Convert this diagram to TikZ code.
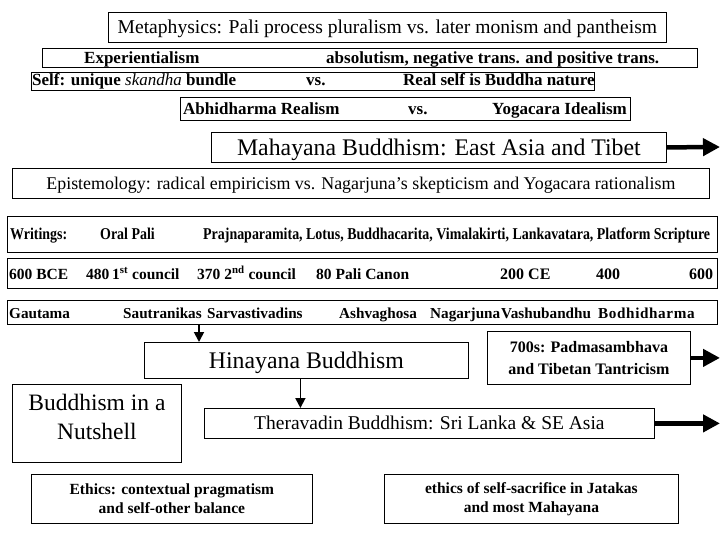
\documentclass[tikz,border=0pt]{standalone}
\usepackage{fontspec}
\setmainfont{Liberation Serif}
\newfontfamily\narrowserif[FakeStretch=0.845]{Liberation Serif}
\usetikzlibrary{positioning,arrows.meta}
\tikzset{%
box/.style={draw,line width=0.8pt,inner sep=0pt,anchor=north west},
bigtext/.style={font=\fontsize{23.8}{29}\selectfont,text height=15.7pt,text depth=0pt},
midtext/.style={font=\fontsize{19.6}{23}\selectfont,text height=12.9pt,text depth=0pt},
epistext/.style={font=\fontsize{17.9}{21}\selectfont,text height=11.8pt,text depth=0pt},
theratext/.style={font=\fontsize{19.5}{23}\selectfont,text height=12.9pt,text depth=0pt},
rowtext/.style={font=\fontsize{17}{20}\selectfont\bfseries,anchor=base west,inner sep=0pt},
writtext/.style={font=\fontsize{16.5}{19}\narrowserif\bfseries,anchor=base west,inner sep=0pt},
datetext/.style={font=\fontsize{15.5}{18}\selectfont\bfseries,anchor=base west,inner sep=0pt},
yeartext/.style={font=\fontsize{16}{19}\selectfont\bfseries,anchor=base west,inner sep=0pt},
nametext/.style={font=\fontsize{15.2}{19}\selectfont\bfseries,anchor=base west,inner sep=0pt},
notetext/.style={font=\fontsize{16}{22}\selectfont\bfseries,align=center},
ethictext/.style={font=\fontsize{15.5}{19}\selectfont\bfseries,align=center},
fatarrow/.style={line width=4.5pt,-{Triangle[length=17pt,width=17pt]}},
thinarrow/.style={line width=1.8pt,-{Triangle[length=10pt,width=10pt]}}
}
\begin{document}
\begin{tikzpicture}[x=1pt,y=-1pt]
  \useasboundingbox (0,0) rectangle (720,540);

  \node[box,midtext,minimum width=558,minimum height=30] (meta) at (108,12)
    {Metaphysics: Pali process pluralism vs. later monism and pantheism};

  \node[box,minimum width=655,minimum height=19] (exper) at (42,48) {};
  \node[rowtext] (experl) at (84,64) {Experientialism};
  \node[rowtext] (experr) at (326,64) {absolutism, negative trans. and positive trans.};

  \node[box,minimum width=563,minimum height=18] (self) at (31,72) {};
  \node[rowtext] (selfl) at (32,86) {Self: unique {\mdseries\itshape skandha} bundle};
  \node[rowtext] (selfvs) at (306,86) {vs.};
  \node[rowtext] (selfr) at (403,86) {Real self is Buddha nature};

  \node[box,minimum width=450,minimum height=23] (abhi) at (180,97) {};
  \node[rowtext] (abhil) at (183,115) {Abhidharma Realism};
  \node[rowtext] (abhivs) at (408,115) {vs.};
  \node[rowtext] (abhir) at (492,115) {Yogacara Idealism};

  \node[box,bigtext,minimum width=455,minimum height=30] (maha) at (211,132)
    {Mahayana Buddhism: East Asia and Tibet};
  \coordinate (rimend) at (720,147);
  \draw[fatarrow] (maha.east) -- (rimend);

  \node[box,epistext,minimum width=697,minimum height=30] (epis) at (12,168)
    {Epistemology: radical empiricism vs. Nagarjuna’s skepticism and Yogacara rationalism};

  \node[box,minimum width=710,minimum height=36] (writ) at (7,216) {};
  \node[writtext] (writa) at (10,240) {Writings:};
  \node[writtext] (writb) at (100,240) {Oral Pali};
  \node[writtext] (writc) at (203,240)
    {Prajnaparamita, Lotus, Buddhacarita, Vimalakirti, Lankavatara, Platform Scripture};

  \node[box,minimum width=710,minimum height=30] (dates) at (7,258) {};
  \node[datetext] (bce) at (9,279) {600 BCE};
  \node[datetext] (first) at (86,279) {480};
  \node[datetext] (firstc) at (112,279) {1\textsuperscript{st} council};
  \node[datetext] (second) at (197,279) {370 2\textsuperscript{nd} council};
  \node[datetext] (canon) at (316,279) {80 Pali Canon};
  \node[yeartext] (ce) at (500,279) {200 CE};
  \node[yeartext] (four) at (596,279) {400};
  \node[yeartext] (six) at (689,279) {600};

  \node[box,minimum width=710,minimum height=24] (gaut) at (7,300) {};
  \node[nametext] (gauta) at (9,318) {Gautama};
  \node[nametext] (sautr) at (123,318) {Sautranikas};
  \node[nametext] (sarva) at (207,318) {Sarvastivadins};
  \node[nametext] (ashva) at (339,318) {Ashvaghosa};
  \node[nametext] (nagar) at (430,318) {Nagarjuna};
  \node[nametext] (vashu) at (501,318) {Vashubandhu};
  \node[nametext] (bodhi) at (598,318) {\addfontfeature{LetterSpace=4}Bodhidharma};

  \node[box,bigtext,minimum width=324,minimum height=36] (hina) at (144,342) {Hinayana Buddhism};
  \coordinate (hinain) at (199,342);
  \draw[thinarrow] (hinain |- gaut.south) -- (hinain);

  \node[box,notetext,minimum width=203,minimum height=53] (padma) at (487,331)
    {700s: Padmasambhava\\and Tibetan Tantricism};
  \draw[fatarrow] (padma.east) -- (padma.east -| rimend);

  \node[box,minimum width=169,minimum height=78] (nut) at (12,384) {};
  \node[font=\fontsize{23.5}{29}\selectfont,align=center] (nuttext) at ([yshift=6]nut.center)
    {Buddhism in a\\Nutshell};

  \node[box,theratext,minimum width=450,minimum height=30] (thera) at (204,408)
    {Theravadin Buddhism: Sri Lanka \& SE Asia};
  \draw[thinarrow] ([xshift=-6]hina.south) -- ([xshift=-6]hina.south |- thera.north);
  \draw[fatarrow] (thera.east) -- (thera.east -| rimend);

  \node[box,ethictext,minimum width=281,minimum height=49] (ethl) at (31,474)
    {Ethics: contextual pragmatism\\and self-other balance};
  \node[box,ethictext,minimum width=294,minimum height=49] (ethr) at (384,474)
    {ethics of self-sacrifice in Jatakas\\and most Mahayana};
\end{tikzpicture}
\end{document}
